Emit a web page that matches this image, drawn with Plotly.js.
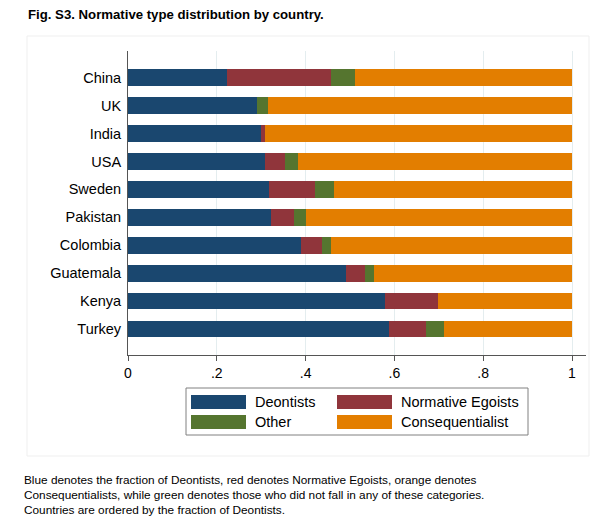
<!DOCTYPE html>
<html>
<head>
<meta charset="utf-8">
<script src="https://cdn.plot.ly/plotly-3.0.1.min.js"></script>
<style>html,body{margin:0;padding:0;background:#fff;}#chart{width:590px;height:526px;}</style>
</head>
<body>
<div id="chart"></div>
<script>
var countries = ["China","UK","India","USA","Sweden","Pakistan","Colombia","Guatemala","Kenya","Turkey"];
var deontists = [0.223,0.290,0.300,0.309,0.318,0.323,0.390,0.491,0.579,0.588];
var egoists   = [0.234,0.000,0.009,0.045,0.103,0.051,0.048,0.043,0.119,0.084];
var other     = [0.054,0.025,0.000,0.028,0.042,0.028,0.019,0.019,0.000,0.040];
var conseq    = [0.489,0.685,0.691,0.618,0.537,0.598,0.543,0.447,0.302,0.288];
var tickVals = [0,0.2,0.4,0.6,0.8,1];
var tickText = ["0",".2",".4",".6",".8","1"];
var seriesNames = ["Deontists","Normative Egoists","Other","Consequentialist"];
var colors = ["#1a476f","#90353b","#55752f","#e37e00"];

var W=590,H=526,L=128,R=4,T=51,B=171;
var FONT='"Liberation Sans", Arial, sans-serif';
function px(x){return (x-L)/(W-L-R);}
function py(y){return (H-B-y)/(H-T-B);}

var series=[deontists,egoists,other,conseq];
var data=series.map(function(v,i){
  return {type:'bar',orientation:'h',x:v,y:countries,name:seriesNames[i],
    marker:{color:colors[i],line:{width:0}},width:0.6,showlegend:false,hoverinfo:'x+name'};
});

var shapes=[
  {type:'rect',xref:'paper',yref:'paper',x0:px(27),x1:px(589),y0:py(36),y1:py(456),line:{color:'#efefef',width:1},fillcolor:'rgba(0,0,0,0)',layer:'below'},
  {type:'rect',xref:'paper',yref:'paper',x0:px(186),x1:px(528),y0:py(388),y1:py(435),line:{color:'#808080',width:1},fillcolor:'#fff'}
];
var annotations=[
  {xref:'paper',yref:'paper',x:px(26),y:py(14),xanchor:'left',yanchor:'middle',showarrow:false,
   text:'<b>Fig. S3. Normative type distribution by country.</b>',font:{family:FONT,size:13.2,color:'#000'}},
  {xref:'paper',yref:'paper',x:px(22),y:py(480),xanchor:'left',yanchor:'middle',showarrow:false,
   text:'Blue denotes the fraction of Deontists, red denotes Normative Egoists, orange denotes',font:{family:FONT,size:11.8,color:'#000'}},
  {xref:'paper',yref:'paper',x:px(22),y:py(495),xanchor:'left',yanchor:'middle',showarrow:false,
   text:'Consequentialists, while green denotes those who did not fall in any of these categories.',font:{family:FONT,size:11.8,color:'#000'}},
  {xref:'paper',yref:'paper',x:px(22),y:py(510),xanchor:'left',yanchor:'middle',showarrow:false,
   text:'Countries are ordered by the fraction of Deontists.',font:{family:FONT,size:11.8,color:'#000'}}
];
var legPos=[[191,395],[337,395],[191,415],[337,415]];
[0,1,2,3].forEach(function(i){
  var p=legPos[i];
  shapes.push({type:'rect',xref:'paper',yref:'paper',x0:px(p[0]),x1:px(p[0]+55),y0:py(p[1]),y1:py(p[1]+14),line:{width:0},fillcolor:colors[i]});
  annotations.push({xref:'paper',yref:'paper',x:px(p[0]+62),y:py(p[1]+7),xanchor:'left',yanchor:'middle',showarrow:false,
    text:seriesNames[i],font:{family:FONT,size:14.5,color:'#000'}});
});

var layout={
  width:W,height:H,barmode:'stack',bargap:0.4,
  margin:{l:L,r:R,t:T,b:B,pad:0},
  paper_bgcolor:'#fff',plot_bgcolor:'#fff',
  font:{family:FONT,size:14,color:'#000'},
  xaxis:{range:[0,(W-L-R)/444],tickvals:tickVals,ticktext:tickText,showgrid:true,gridcolor:'#e4edef',gridwidth:1,
    zeroline:false,showline:true,linecolor:'#555',linewidth:1,ticks:'outside',ticklen:5,tickcolor:'#555',
    tickfont:{family:FONT,size:14,color:'#000'},fixedrange:true},
  yaxis:{type:'category',categoryorder:'array',categoryarray:countries,range:[9.93,-0.955],
    showgrid:false,zeroline:false,showline:true,linecolor:'#555',linewidth:1,ticks:'',ticklabelstandoff:3,
    tickfont:{family:FONT,size:14.5,color:'#000'},fixedrange:true},
  shapes:shapes,annotations:annotations
};
Plotly.newPlot('chart',data,layout,{displayModeBar:false,staticPlot:true});
</script>
</body>
</html>
